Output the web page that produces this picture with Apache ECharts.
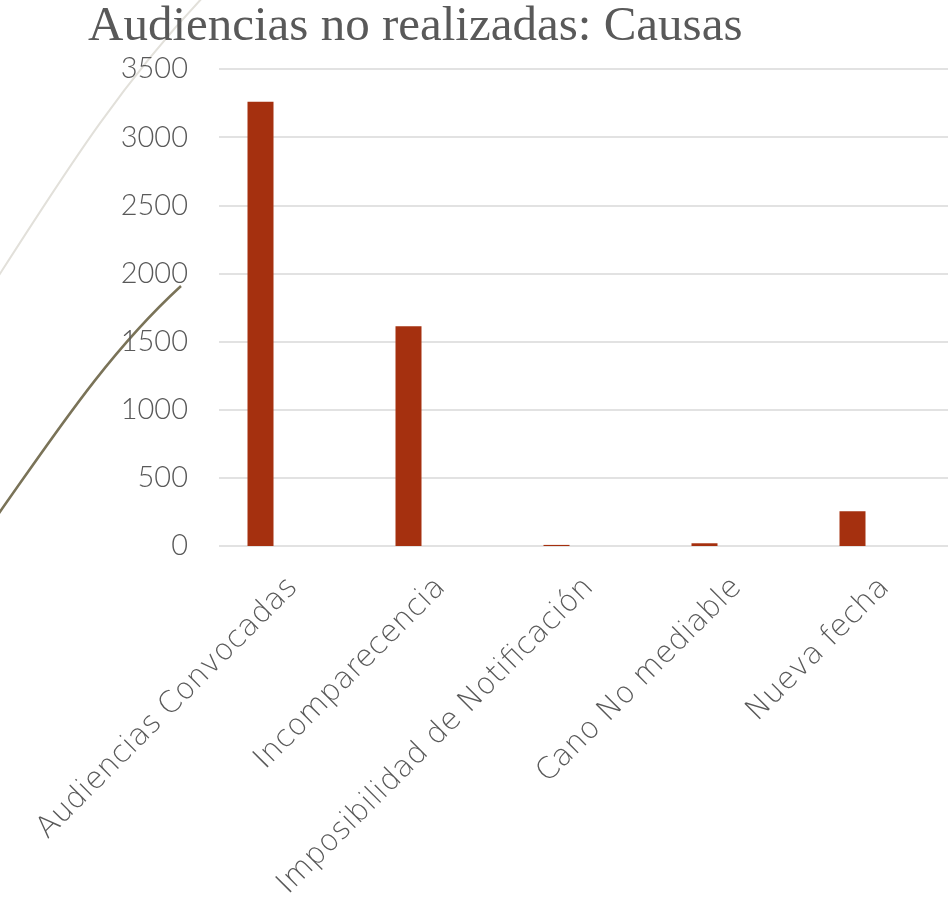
<!DOCTYPE html>
<html>
<head>
<meta charset="utf-8">
<script src="https://cdn.jsdelivr.net/npm/echarts@6/dist/echarts.min.js"></script>
<style>
  html, body { margin: 0; padding: 0; background: #fff; }
  #chart { width: 948px; height: 909px; }
</style>
</head>
<body>
<div id="chart"></div>
<script>
// categorias y valores
const categories = [
  "Audiencias Convocadas",
  "Incomparecencia",
  "Imposibilidad de Notificación",
  "Cano No mediable",
  "Nueva fecha"
];
const causas = [3260, 1612, 8, 20, 255];
// series vacias que ocupan su hueco en cada grupo (como en el original)
const spacerA = [null, null, null, null, null];
const spacerB = [null, null, null, null, null];
const yTicks = { min: 0, max: 3500, interval: 500 };

const textColor = "#595959";

const myChart = echarts.init(document.getElementById("chart"));

const option = {
  animation: false,
  backgroundColor: "#ffffff",
  title: {
    text: "Audiencias no realizadas: Causas",
    left: 88,
    top: 3,
    padding: 0,
    textStyle: {
      fontFamily: "Liberation Serif",
      fontSize: 49,
      fontWeight: "normal",
      color: textColor,
    },
  },
  grid: {
    left: 219,
    right: -11,
    top: 69,
    bottom: 363,
    containLabel: false,
    outerBoundsMode: "none",
  },
  xAxis: {
    type: "category",
    data: categories,
    axisLine: { show: false },
    axisTick: { show: false },
    axisLabel: {
      rotate: 45,
      interval: 0,
      margin: 37,
      fontFamily: "DejaVu Sans",
      fontWeight: 200,
      fontSize: 30,
      color: textColor,
    },
  },
  yAxis: {
    type: "value",
    min: yTicks.min,
    max: yTicks.max,
    interval: yTicks.interval,
    axisLine: { show: false },
    axisTick: { show: false },
    axisLabel: {
      margin: 31,
      fontFamily: "Lato",
      fontWeight: 300,
      fontSize: 29,
      color: textColor,
      formatter: (value) => String(value),
    },
    splitLine: {
      lineStyle: { color: "#d9d9d9", width: 1.5 },
    },
  },
  series: [
    {
      name: "Causas",
      type: "bar",
      data: causas,
      barWidth: 26,
      barGap: "25%",
      itemStyle: { color: "#a5300f" },
    },
    { name: "s2", type: "bar", data: spacerA, barWidth: 26 },
    { name: "s3", type: "bar", data: spacerB, barWidth: 26 },
  ],
  graphic: [
    {
      type: "bezierCurve",
      z: -1,
      shape: { x1: 206, y1: -6, cpx1: 122, cpy1: 82, cpx2: 66, cpy2: 171, x2: -4, y2: 280 },
      style: { stroke: "#e2e0da", lineWidth: 2, fill: null },
    },
    {
      type: "bezierCurve",
      z: -1,
      shape: { x1: 181, y1: 286, cpx1: 109, cpy1: 352, cpx2: 57, cpy2: 431, x2: -3, y2: 516 },
      style: { stroke: "#7a7358", lineWidth: 2.5, fill: null },
    },
  ],
};

myChart.setOption(option);
</script>
</body>
</html>
